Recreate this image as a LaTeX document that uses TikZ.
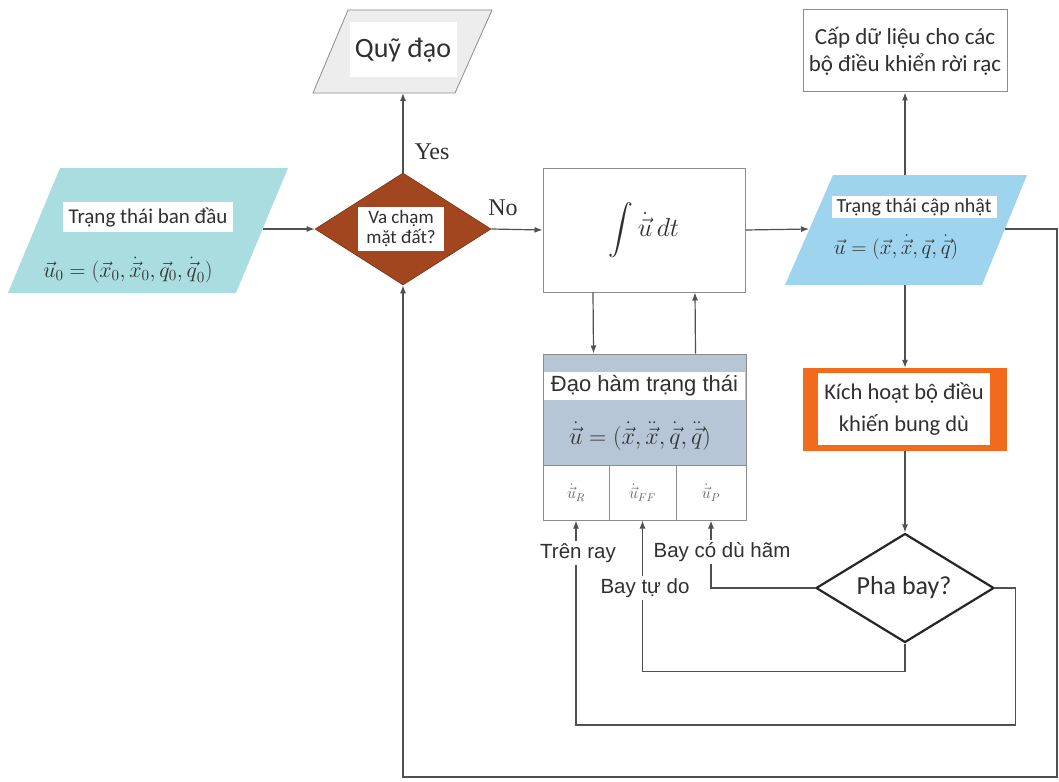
\RequirePackage{fix-cm}
\documentclass[tikz,border=0pt]{standalone}
\usepackage{exscale}
\usepackage{fontspec}
\setmainfont{Carlito}
\newfontfamily\arialf{Liberation Sans}
\newfontfamily\timesf{Liberation Serif}
\usetikzlibrary{shapes.geometric,arrows.meta,calc}
\definecolor{tealfill}{HTML}{A9DDDF}
\definecolor{bluefill}{HTML}{9ED4EE}
\definecolor{brownfill}{HTML}{A2461F}
\definecolor{browndraw}{HTML}{7A3214}
\definecolor{grayfill}{HTML}{EDEDED}
\definecolor{graydraw}{HTML}{8C8C8C}
\definecolor{derivfill}{HTML}{B7C6D6}
\definecolor{orangefill}{HTML}{F26A1B}
\definecolor{lc}{HTML}{505050}
\definecolor{txt}{HTML}{303030}
\begin{document}
\begin{tikzpicture}[x=1pt,y=-1pt,
  conn/.style={draw=lc,line width=1.2pt},
  arr/.style={conn,-{Latex[length=8pt,width=6pt]}},
  wbox/.style={fill=white,inner sep=0pt,text=txt,align=center},
  cell/.style={draw=graydraw,line width=1pt,fill=white,minimum height=55,inner sep=0pt,text=txt!75,font=\fontsize{16}{18}\selectfont},
  lbl/.style={font=\arialf\fontsize{20.5}{23}\selectfont,text=txt,inner sep=2pt}]
\useasboundingbox (0,0) rectangle (1059,781);
\fill[white] (0,0) rectangle (1059,781);

% start state
\fill[tealfill] (8,293) -- (236,293) -- (288,168) -- (60,168) -- cycle;
\node[wbox,minimum width=170,minimum height=30,font=\fontsize{21}{24}\selectfont] (startT) at (148,217) {Trạng thái ban đầu};
\node[text=txt,font=\fontsize{22}{24}\selectfont] (startF) at (128,270) {$\vec{u}_0=(\vec{x}_0,\dot{\vec{x}}_0,\vec{q}_0,\dot{\vec{q}}_0)$};
\coordinate (startE) at (263,229);

% collision diamond
\node[diamond,fill=brownfill,draw=browndraw,line width=0.6pt,minimum width=176,minimum height=112,inner sep=0pt] (coll) at (403,229) {};
\node[wbox,minimum width=86,minimum height=44,font=\fontsize{19}{20}\selectfont] (collT) at (401,229) {Va chạm\\mặt đất?};

% trajectory
\fill[grayfill,draw=graydraw,line width=0.8pt] (313,93) -- (455,93) -- (492,10) -- (348,10) -- cycle;
\node[wbox,minimum width=107,minimum height=55,font=\fontsize{28}{30}\selectfont] (traj) at (403,50) {Quỹ đạo};
\coordinate (trajS) at (403,93);

\draw[arr] (startE) -- (coll.west);
\draw[arr] (coll.north) -- (trajS);
\node[font=\timesf\fontsize{24}{26}\selectfont,text=txt] (yes) at (432,152) {Yes};
\node[font=\timesf\fontsize{24}{26}\selectfont,text=txt] (no) at (503,208) {No};

% integral
\node[draw=graydraw,line width=1pt,minimum width=202,minimum height=124,inner sep=0pt,fill=white,text=txt,font=\fontsize{26}{28}\selectfont] (integ) at (644,230) {$\displaystyle\int\dot{\vec{u}}\,dt$};
\draw[arr] (coll.east) -- (integ.west);

% updated state
\fill[bluefill] (785,285) -- (982,285) -- (1027,175) -- (833,175) -- cycle;
\node[wbox,minimum width=165,minimum height=22,font=\fontsize{20}{22}\selectfont] (updT) at (914,207) {Trạng thái cập nhật};
\node[text=txt,font=\fontsize{21}{23}\selectfont] (updF) at (896,247) {$\vec{u}=(\vec{x},\dot{\vec{x}},\vec{q},\dot{\vec{q}})$};
\coordinate (updW) at (809,229);
\coordinate (updE) at (1005,229);
\coordinate (updN) at (905,175);
\coordinate (updS) at (905,285);
\draw[arr] (integ.east) -- (updW);

% data box
\node[draw=graydraw,line width=1pt,fill=white,minimum width=204,minimum height=82,inner sep=0pt,align=center,font=\fontsize{23}{27}\selectfont,text=txt] (data) at (905,51) {Cấp dữ liệu cho các\\bộ điều khiển rời rạc};
\draw[arr] (updN) -- (data.south);

% trigger box
\node[fill=orangefill,minimum width=204,minimum height=83,inner sep=0pt] (trig) at (905,409.5) {};
\node[fill=white,minimum width=172,minimum height=72,inner sep=0pt,align=center,font=\fontsize{22.5}{32}\selectfont,text=txt] (trigT) at (904,409) {Kích hoạt bộ điều\\khiến bung dù};
\draw[arr] (updS) -- (trig.north);

% phase diamond
\node[diamond,draw=black!85,line width=2.2pt,fill=white,minimum width=178,minimum height=109,inner sep=0pt] (phase) at (905,588) {};
\node[font=\fontsize{26}{28}\selectfont,text=txt] (phaseT) at (904,588) {Pha bay?};
\draw[arr] (trig.south) -- (phase.north);

% derivative block
\node[fill=derivfill,draw=graydraw,line width=1pt,minimum width=203,minimum height=111,inner sep=0pt] (deriv) at (644.5,409.5) {};
\node[fill=white,minimum width=201,minimum height=28,inner sep=0pt,font=\arialf\fontsize{22}{24}\selectfont,text=txt] (derivT) at (644.5,386) {Đạo hàm trạng thái};
\node[text=txt,font=\fontsize{24}{26}\selectfont] (derivF) at (640,436) {$\dot{\vec{u}}=(\dot{\vec{x}},\ddot{\vec{x}},\dot{\vec{q}},\ddot{\vec{q}})$};
\node[cell,minimum width=66] (cR) at (576,492.5) {$\dot{\vec{u}}_{R}$};
\node[cell,minimum width=67] (cF) at (642.5,492.5) {$\dot{\vec{u}}_{FF}$};
\node[cell,minimum width=70] (cP) at (711,492.5) {$\dot{\vec{u}}_{P}$};

\draw[arr] ([xshift=-51pt]integ.south) -- ([xshift=-51pt]deriv.north);
\draw[arr] ([xshift=51pt]deriv.north) -- ([xshift=51pt]integ.south);

% phase labels
\node[lbl] (lR) at (578,553) {Trên ray};
\node[lbl] (lF) at (645,588) {Bay tự do};
\node[lbl] (lP) at (722,552) {Bay có dù hãm};
\draw[arr] (cR.south |- lR.north) -- (cR.south);
\draw[arr] (cF.south |- lF.north) -- (cF.south);
\draw[arr] (cP.south |- lP.north) -- (cP.south);
\draw[conn] (phase.west) -| (cP.south |- lP.south);
\draw[conn] (phase.south) -- ++(0,28) -| (cF.south |- lF.south);
\draw[conn] (phase.east) -- ++(20,0) -- ++(0,137) -| (cR.south |- lR.south);

% main loop
\draw[arr] (updE) -- (1057,229) |- (403,777) -- (coll.south);
\end{tikzpicture}
\end{document}
